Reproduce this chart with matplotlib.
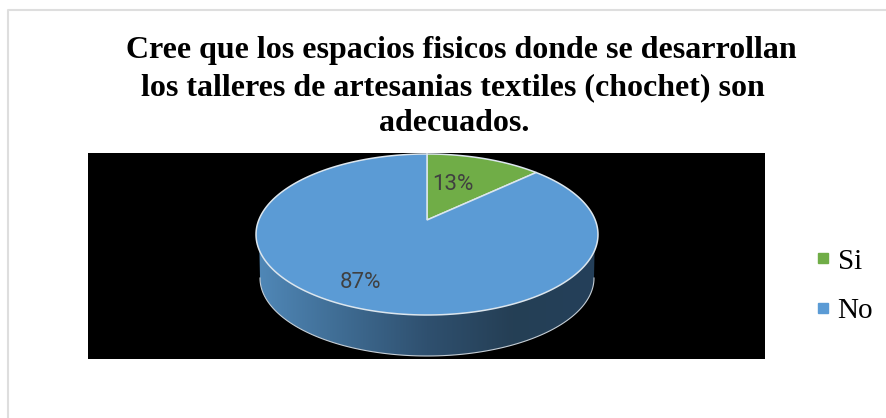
# --coding:utf-8 --
import matplotlib.pyplot as plt
from matplotlib.colors import LinearSegmentedColormap
from matplotlib.lines import Line2D
from matplotlib.patches import Polygon
import numpy as np

titulo = ['Cree que los espacios fisicos donde se desarrollan',
          'los talleres de artesanias textiles (chochet) son',
          'adecuados.']
categorias = ['Si', 'No']
valores = [13, 87]
etiquetas = ['13%', '87%']
colores = ['#70ad47', '#5b9bd5']


def proyectar(u, v):
    # disco visto en perspectiva, el centro queda en (427, 220)
    w = 1 + 0.18 * v
    return 427 + 168.2 * u / w, 220 - 77.9 * v / w


fig = plt.figure(figsize=(8.87, 4.18), dpi=100)
ax = fig.add_axes([0, 0, 1, 1])
ax.axis('off')

# marco del grafico, solo arriba y a la izquierda
ax.plot([8.5, 8.5, 887], [418, 9.5, 9.5], color='#dedede', lw=1.5)

# fondo negro
ax.fill([88, 765, 765, 88], [152.5, 152.5, 358.5, 358.5], color='black', lw=0)

# costado del disco con degradado
t = np.linspace(np.pi, 2 * np.pi, 120)
arriba_x, arriba_y = proyectar(np.cos(t), np.sin(t))
abajo_x = 427 + 167 * np.cos(t)
abajo_y = 278 - 78 * np.sin(t)
contorno = np.column_stack([np.r_[arriba_x, abajo_x[::-1]],
                            np.r_[arriba_y, abajo_y[::-1]]])
costado = Polygon(contorno, closed=True, fc='none', ec='none')
ax.add_patch(costado)
cmap = LinearSegmentedColormap.from_list(
    'costado', ['#5088b8', '#3f6c93', '#2f506f', '#253f55', '#24405a'])
img = ax.imshow(np.linspace(0, 1, 256).reshape(1, -1), cmap=cmap, aspect='auto',
                extent=[256, 598, 358, 230], zorder=2)
img.set_clip_path(costado)
ax.plot(abajo_x, abajo_y, color='#c5ced6', lw=0.8, zorder=3)

# tajadas
inicio = 0
for valor, color in zip(valores, colores):
    fin = inicio + valor / sum(valores) * 2 * np.pi
    a = np.linspace(inicio, fin, 200)
    x, y = proyectar(np.sin(a), np.cos(a))
    cx, cy = proyectar(0, 0)
    ax.fill(np.r_[cx, x], np.r_[cy, y], fc=color, ec='#dce6ee', lw=1.1, zorder=4)
    inicio = fin

ax.text(453, 184, etiquetas[0], color='#404040', fontsize=16, family='Roboto',
        ha='center', va='center', zorder=5)
ax.text(361, 283, etiquetas[1], color='#404040', fontsize=16, family='Roboto',
        ha='center', va='center', zorder=5)

# titulo
for linea, xc, yb in zip(titulo, [461, 453, 454], [58, 95, 131]):
    ax.text(xc, yb, linea, family='Liberation Serif', weight='bold', fontsize=23,
            ha='center', va='baseline', color='black')

# leyenda
marcas = [Line2D([], [], ls='', marker='s', ms=7, color=c) for c in colores]
ax.legend(marcas, categorias, loc='center left', bbox_to_anchor=(788, 286),
          bbox_transform=ax.transData, frameon=False, handlelength=0.6,
          handletextpad=0.2, labelspacing=0.78,
          prop={'family': 'Liberation Serif', 'size': 21})

ax.set_xlim(0, 887)
ax.set_ylim(418, 0)
fig.savefig('out.png', dpi=100)
